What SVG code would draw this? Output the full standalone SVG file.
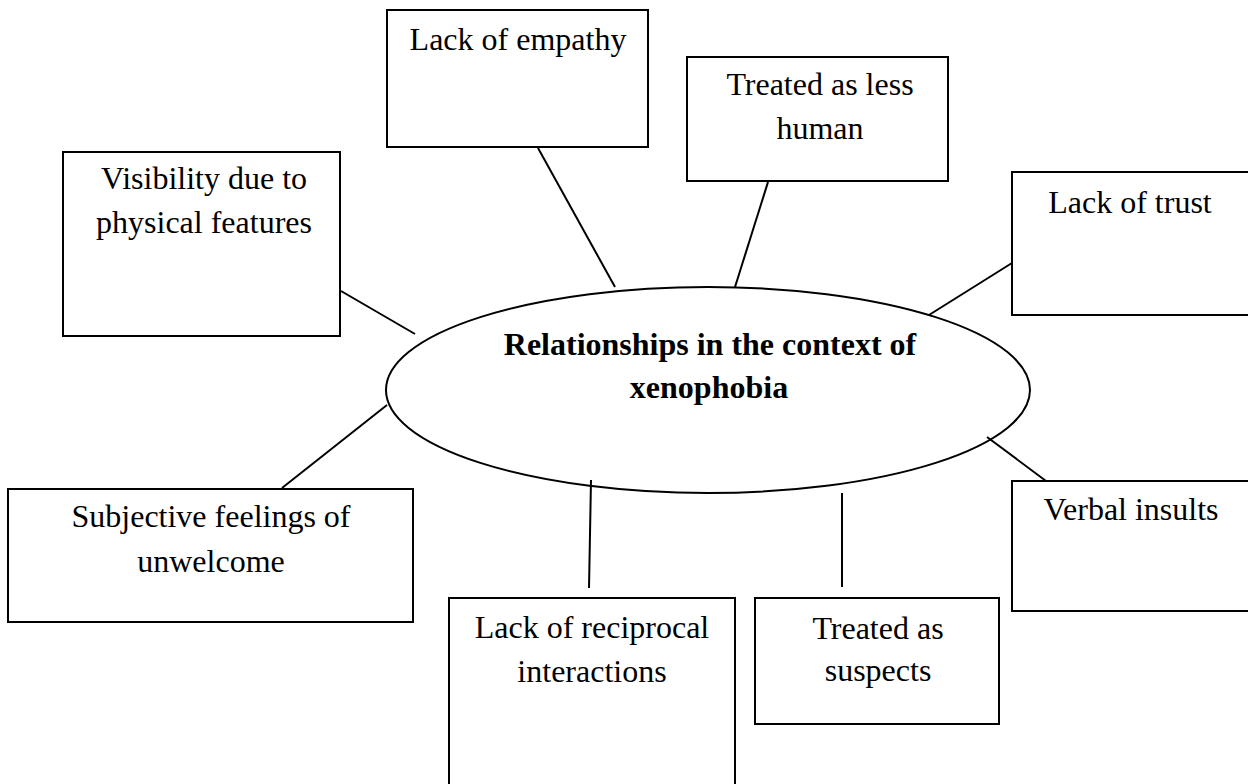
<svg xmlns="http://www.w3.org/2000/svg" width="1248" height="784" viewBox="0 0 1248 784">
<style>
.box{fill:#fff;stroke:#000;stroke-width:2}
.t{font-family:"Liberation Serif","Times New Roman",serif;font-size:32px;fill:#000;text-anchor:middle}
.b{font-weight:bold}
.c line{stroke:#000;stroke-width:2}
</style>
<rect width="1248" height="784" fill="#fff"/>
<g id="connectors" class="c">
<line x1="538" y1="148" x2="615" y2="287"/>
<line x1="768" y1="182" x2="735" y2="287"/>
<line x1="1012" y1="263" x2="929" y2="315"/>
<line x1="341" y1="291" x2="415" y2="334"/>
<line x1="387" y1="405" x2="282" y2="488"/>
<line x1="591" y1="480" x2="589" y2="588"/>
<line x1="842" y1="493" x2="842" y2="587"/>
<line x1="987" y1="437" x2="1046" y2="481"/>
</g>
<g id="center">
<ellipse cx="708" cy="390" rx="322" ry="103" fill="none" stroke="#000" stroke-width="2"/>
<text class="t b" x="710" y="355">Relationships in the context of</text>
<text class="t b" x="709" y="398">xenophobia</text>
</g>
<g id="empathy">
<rect class="box" x="387" y="10" width="261" height="137"/>
<text class="t" x="518" y="50">Lack of empathy</text>
</g>
<g id="lesshuman">
<rect class="box" x="687" y="57" width="261" height="124"/>
<text class="t" x="820" y="95">Treated as less</text>
<text class="t" x="820" y="139">human</text>
</g>
<g id="trust">
<rect class="box" x="1012" y="172" width="240" height="143"/>
<text class="t" x="1130" y="213">Lack of trust</text>
</g>
<g id="visibility">
<rect class="box" x="63" y="152" width="277" height="184"/>
<text class="t" x="204" y="189">Visibility due to</text>
<text class="t" x="204" y="233">physical features</text>
</g>
<g id="subjective">
<rect class="box" x="8" y="489" width="405" height="133"/>
<text class="t" x="211" y="527">Subjective feelings of</text>
<text class="t" x="211" y="572">unwelcome</text>
</g>
<g id="reciprocal">
<rect class="box" x="449" y="598" width="286" height="200"/>
<text class="t" x="592" y="638">Lack of reciprocal</text>
<text class="t" x="592" y="682">interactions</text>
</g>
<g id="suspects">
<rect class="box" x="755" y="598" width="244" height="126"/>
<text class="t" x="878" y="639">Treated as</text>
<text class="t" x="878" y="681">suspects</text>
</g>
<g id="verbal">
<rect class="box" x="1012" y="481" width="240" height="130"/>
<text class="t" x="1131" y="520">Verbal insults</text>
</g>
</svg>
